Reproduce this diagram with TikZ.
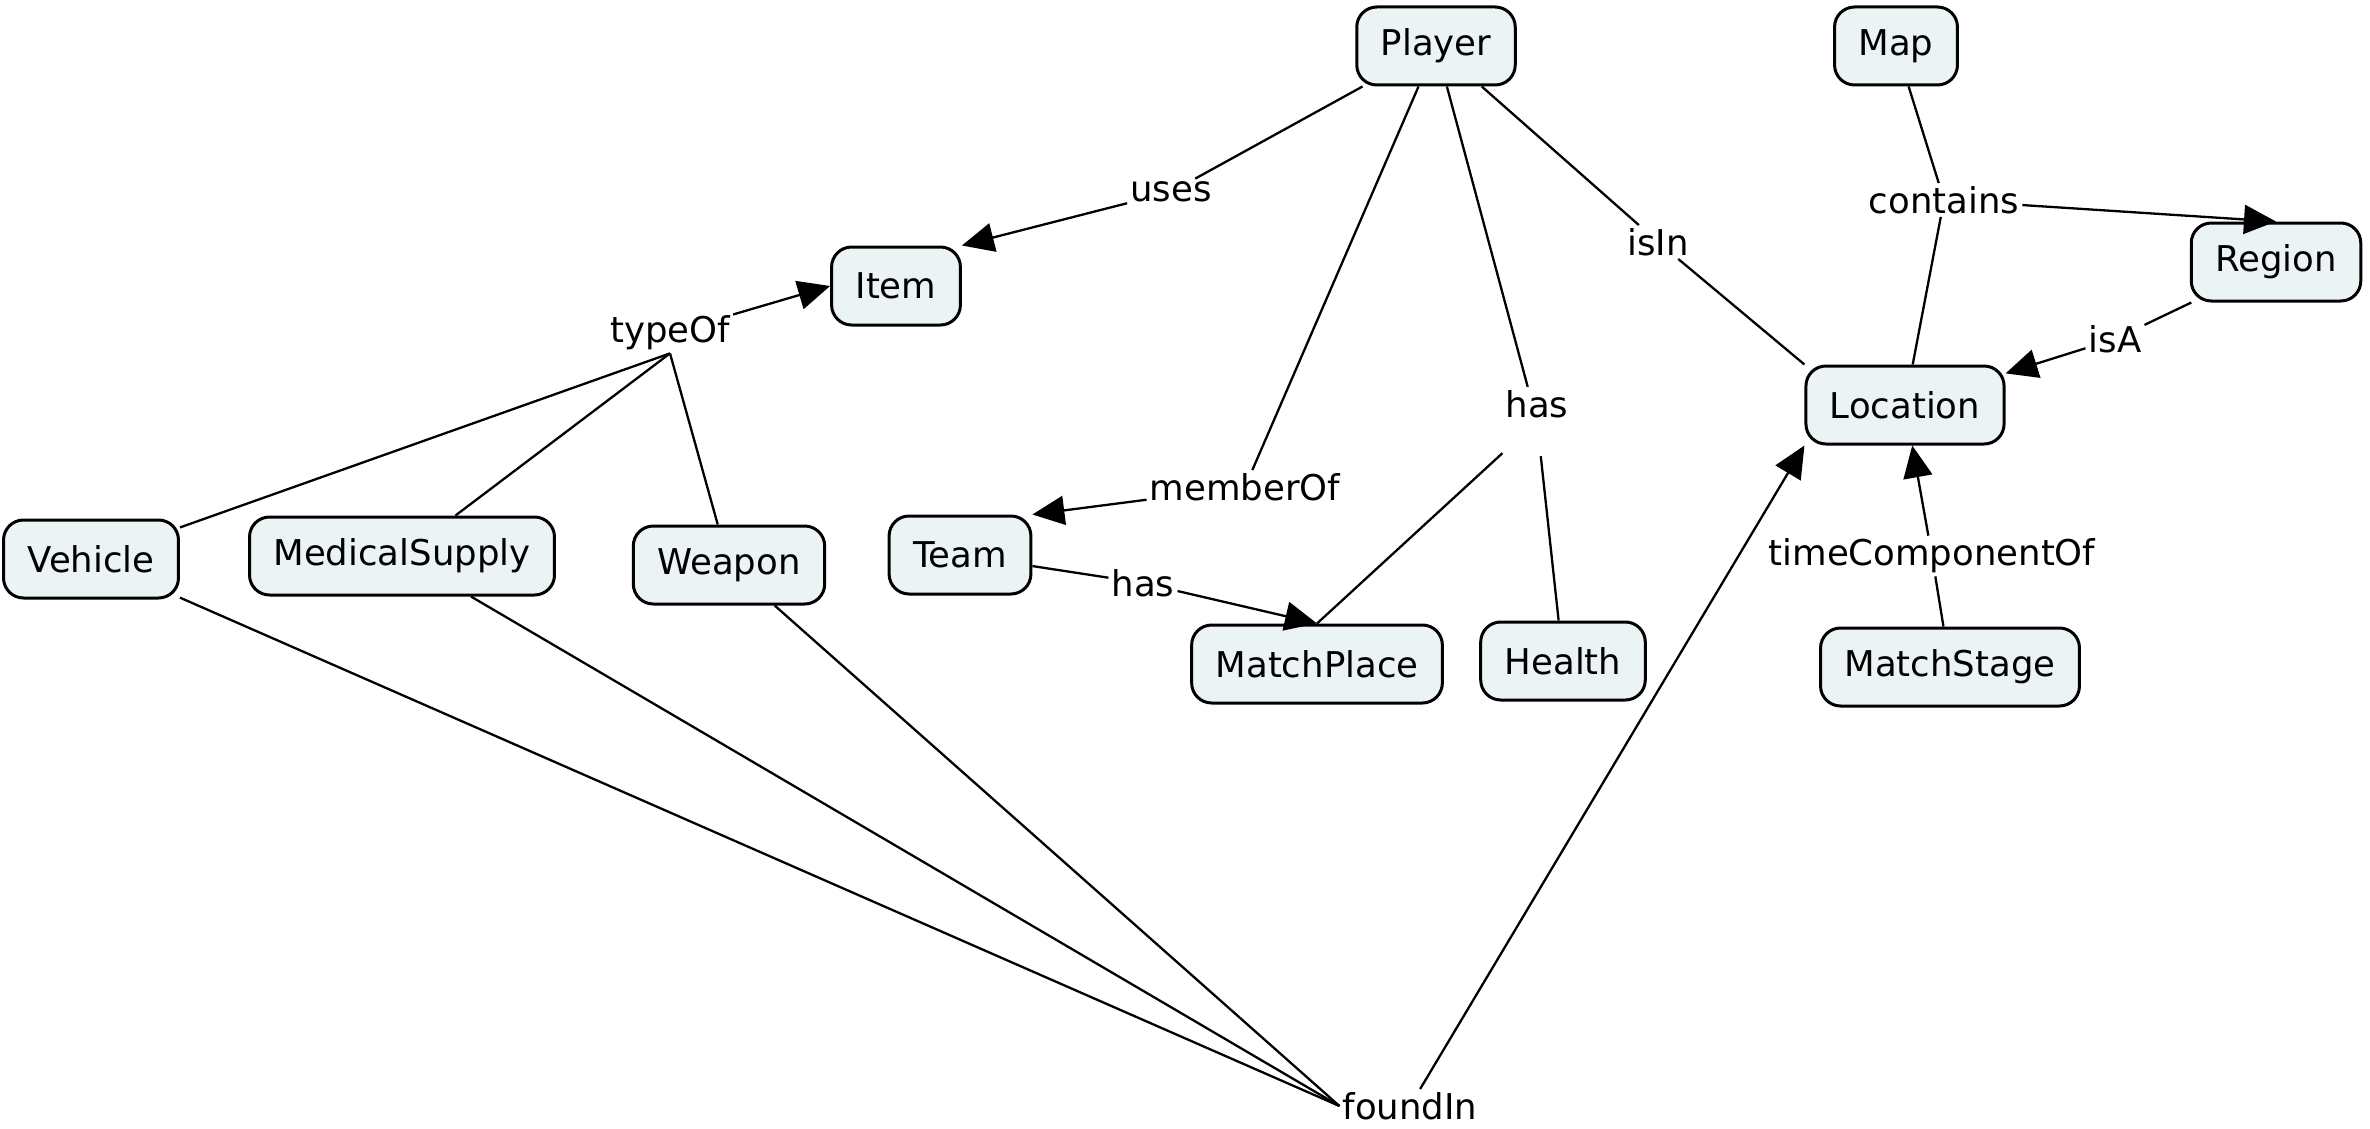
\documentclass[tikz,border=0pt]{standalone}
\usepackage{fontspec}
\setmainfont{DejaVu Sans}
\usetikzlibrary{arrows.meta}
\definecolor{conceptfill}{RGB}{236,243,245}
\begin{document}
\begin{tikzpicture}[x=1pt,y=-1pt,
  concept/.style={draw=black, line width=3pt, fill=conceptfill, rounded corners=20pt,
    inner xsep=24pt, inner ysep=0pt, minimum height=78pt,
    font=\fontsize{35.5}{42}\selectfont},
  linkname/.style={inner sep=3pt, font=\fontsize{35.5}{42}\selectfont},
  link/.style={line width=2.3pt},
  arr/.style={line width=2.3pt, -{Triangle[length=32pt,width=29pt]}}]
\useasboundingbox (0,0) rectangle (2370,1129);
% concepts
\node[concept] (Player) at (1436,46) {Player};
\node[concept] (Map) at (1896,46) {Map};
\node[concept] (Item) at (896,286) {Item};
\node[concept] (Region) at (2276,262) {Region};
\node[concept] (Location) at (1905,405) {Location};
\node[concept] (Vehicle) at (91,559) {Vehicle};
\node[concept] (MedicalSupply) at (402,556) {MedicalSupply};
\node[concept] (Weapon) at (729,565) {Weapon};
\node[concept] (Team) at (960,555) {Team};
\node[concept] (MatchPlace) at (1317,664) {MatchPlace};
\node[concept] (Health) at (1563,661) {Health};
\node[concept] (MatchStage) at (1950,667) {MatchStage};
% linking phrases
\node[linkname] (uses) at (1171,192) {uses};
\node[linkname] (typeOf) at (670,333) {typeOf};
\node[linkname] (memberOf) at (1245,487) {memberOf};
\node[linkname, text depth=36pt, anchor=base] (hasP) at (1537,417) {has};
\node[linkname] (isIn) at (1658,242) {isIn};
\node[linkname] (contains) at (1944,200) {contains};
\node[linkname] (isA) at (2115,339) {isA};
\node[linkname] (timeComp) at (1932,556) {timeComponentOf};
\node[linkname] (hasT) at (1143,583) {has};
\node[linkname] (foundIn) at (1410,1106) {foundIn};
% connections
\draw[link] (Player) -- (uses);
\draw[arr] (uses) -- (Item.north east);
\draw[link] (Vehicle) -- (typeOf.south);
\draw[link] (MedicalSupply) -- (typeOf.south);
\draw[link] (Weapon) -- (typeOf.south);
\draw[arr] (typeOf) -- (Item.west);
\draw[link] (Player) -- (memberOf);
\draw[arr] (memberOf) -- (Team.north east);
\draw[link] (Player) -- (hasP);
\draw[link] (hasP) -- (MatchPlace.north);
\draw[link] (hasP) -- (Health);
\draw[link] (Player) -- (isIn);
\draw[link] (isIn) -- (Location.north west);
\draw[link] (Map) -- (contains);
\draw[arr] (contains) -- (Region.north);
\draw[link] (contains) -- (Location);
\draw[link] (Region) -- (isA);
\draw[arr] (isA) -- (Location);
\draw[link] (MatchStage) -- (timeComp);
\draw[arr] (timeComp) -- (Location);
\draw[link] (Team) -- (hasT);
\draw[arr] (hasT) -- (MatchPlace.north);
\draw[link] (Vehicle) -- (foundIn.west);
\draw[link] (MedicalSupply) -- (foundIn.west);
\draw[link] (Weapon) -- (foundIn.west);
\draw[arr] (foundIn) -- (Location.south west);
\end{tikzpicture}
\end{document}
